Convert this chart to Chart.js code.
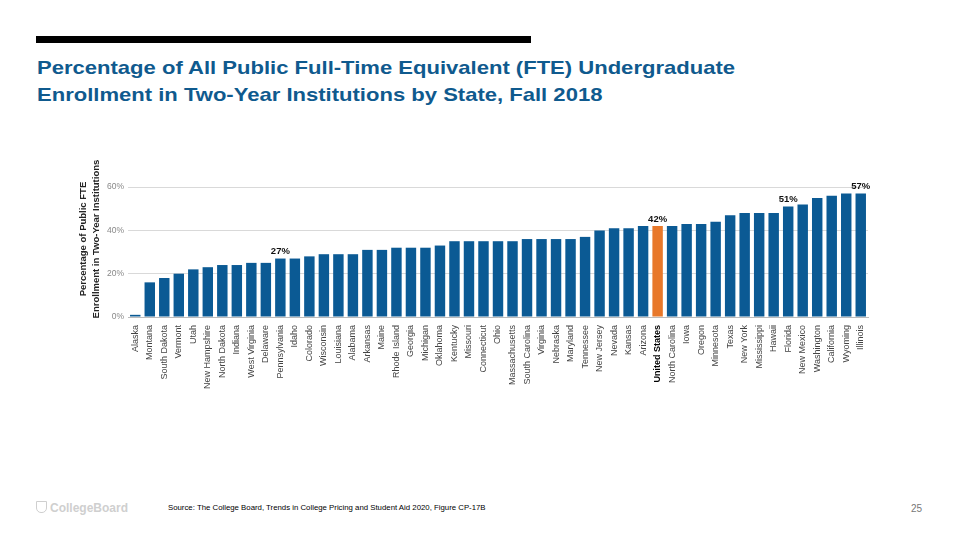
<!DOCTYPE html>
<html>
<head>
<meta charset="utf-8">
<script src="https://cdn.jsdelivr.net/npm/chart.js@4.4.0/dist/chart.umd.min.js"></script>
<style>
  body { margin: 0; background: #fff; font-family: "Liberation Sans", Arial, sans-serif; }
  #page { position: relative; width: 960px; height: 540px; overflow: hidden; }
  #rule { position: absolute; left: 36px; top: 36px; width: 495px; height: 7px; background: #000; }
  #title { position: absolute; left: 37px; top: 54px; color: #0f5a8e; font-weight: bold; font-size: 19px; line-height: 27px;
           white-space: nowrap; transform: scaleX(1.16); transform-origin: left top; }
  #wrap { position: absolute; left: 70px; top: 152px; width: 810px; height: 248px; }
  #logo { position: absolute; left: 36px; top: 501px; color: #cfcfcf; font-weight: bold; font-size: 12px; }
  #logo span { display: inline-block; width: 9px; height: 10px; border: 1.5px solid #cfcfcf; border-radius: 0 0 5px 5px; margin-right: 3px; vertical-align: -1px; }
  #source { position: absolute; left: 168px; top: 503px; font-size: 7.8px; color: #000; }
  #pagenum { position: absolute; left: 911px; top: 503px; font-size: 10px; color: #777; }
</style>
</head>
<body>
<div id="page">
  <div id="rule"></div>
  <div id="title">Percentage of All Public Full-Time Equivalent (FTE) Undergraduate<br>Enrollment in Two-Year Institutions by State, Fall 2018</div>
  <div id="wrap"><canvas id="barChart"></canvas></div>
  <div id="logo"><span></span>CollegeBoard</div>
  <div id="source">Source: The College Board, Trends in College Pricing and Student Aid 2020, Figure CP-17B</div>
  <div id="pagenum">25</div>
</div>
<script>
// Datos
const states = [
    'Alaska', 'Montana', 'South Dakota', 'Vermont', 'Utah', 'New Hampshire', 'North Dakota',
    'Indiana', 'West Virginia', 'Delaware', 'Pennsylvania', 'Idaho', 'Colorado', 'Wisconsin',
    'Louisiana', 'Alabama', 'Arkansas', 'Maine', 'Rhode Island', 'Georgia', 'Michigan',
    'Oklahoma', 'Kentucky', 'Missouri', 'Connecticut', 'Ohio', 'Massachusetts', 'South Carolina',
    'Virginia', 'Nebraska', 'Maryland', 'Tennessee', 'New Jersey', 'Nevada', 'Kansas', 'Arizona',
    'United States', 'North Carolina', 'Iowa', 'Oregon', 'Minnesota', 'Texas', 'New York',
    'Mississippi', 'Hawaii', 'Florida', 'New Mexico', 'Washington', 'California', 'Wyoming', 'Illinois'
];
const shares = [
    1, 16, 18, 20, 22, 23, 24,
    24, 25, 25, 27, 27, 28, 29,
    29, 29, 31, 31, 32, 32, 32,
    33, 35, 35, 35, 35, 35, 36,
    36, 36, 36, 37, 40, 41, 41, 42,
    42, 42, 43, 43, 44, 47, 48,
    48, 48, 51, 52, 55, 56, 57, 57
];
const labeledStates = ['Pennsylvania', 'United States', 'Florida', 'Illinois'];
const yTicks = [0, 20, 40, 60];
const nationalLabel = 'United States';

const blue = '#0b5a94';
const orange = '#e8782a';

// Etiquetas de valor encima de algunas barras
const valueLabels = {
    id: 'valueLabels',
    afterDatasetsDraw(chart) {
        const ctx = chart.ctx;
        const meta = chart.getDatasetMeta(0);
        ctx.save();
        ctx.font = 'bold 9.5px "Liberation Sans", Arial, sans-serif';
        ctx.fillStyle = '#111';
        ctx.textAlign = 'center';
        ctx.textBaseline = 'bottom';
        states.forEach((s, i) => {
            if (!labeledStates.includes(s)) return;
            const bar = meta.data[i];
            ctx.fillText(shares[i] + '%', bar.x, bar.y - 2);
        });
        ctx.restore();
    }
};

new Chart(document.getElementById('barChart'), {
    type: 'bar',
    data: {
        labels: states,
        datasets: [{
            data: shares,
            backgroundColor: states.map(s => s === nationalLabel ? orange : blue),
            barPercentage: 0.72,
            categoryPercentage: 1.0
        }]
    },
    options: {
        responsive: true,
        maintainAspectRatio: false,
        animation: false,
        layout: { padding: { top: 2, right: 12 } },
        plugins: {
            legend: { display: false },
            tooltip: { enabled: false }
        },
        scales: {
            x: {
                grid: { display: false },
                border: { color: '#bbb' },
                afterFit: scale => { scale.height = 83; },
                ticks: {
                    autoSkip: false,
                    minRotation: 90,
                    maxRotation: 90,
                    padding: 0,
                    color: ctx => states[ctx.index] === nationalLabel ? '#000' : '#444',
                    font: ctx => ({
                        family: '"Liberation Sans", Arial, sans-serif',
                        size: 9,
                        weight: states[ctx.index] === nationalLabel ? 'bold' : 'normal'
                    })
                }
            },
            y: {
                min: 0,
                max: 72,
                afterFit: scale => { scale.width = 58; },
                afterBuildTicks: scale => { scale.ticks = yTicks.map(v => ({ value: v })); },
                border: { display: false },
                grid: { color: '#d9d9d9', drawTicks: false },
                title: {
                    display: true,
                    text: ['Percentage of Public FTE', 'Enrollment in Two-Year Institutions'],
                    color: '#222',
                    font: { family: '"Liberation Sans", Arial, sans-serif', size: 9.5, weight: 'bold', lineHeight: 1.45 },
                    padding: { top: 6, bottom: 4 }
                },
                ticks: {
                    color: '#888',
                    padding: 4,
                    font: { family: '"Liberation Sans", Arial, sans-serif', size: 8.5 },
                    callback: v => v + '%'
                }
            }
        }
    },
    plugins: [valueLabels]
});
</script>
</body>
</html>
